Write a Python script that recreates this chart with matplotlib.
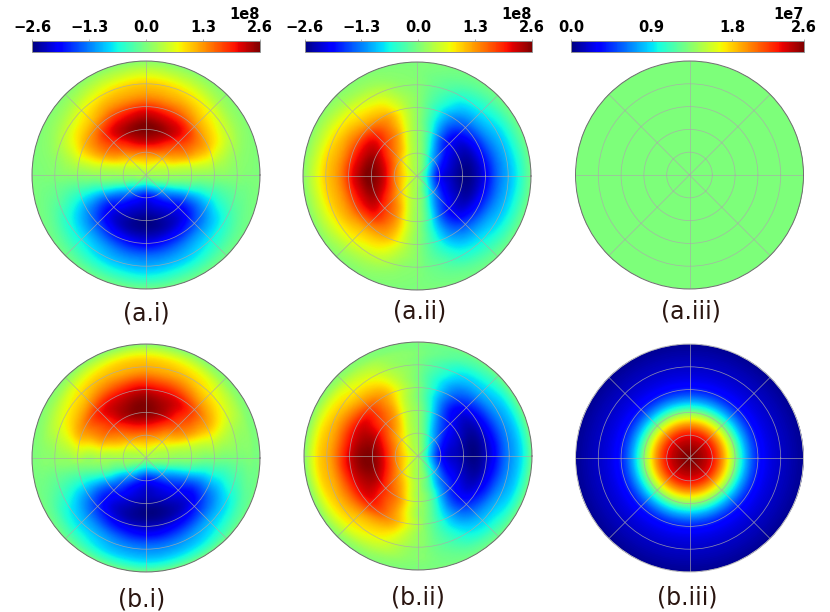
"""
Polar field maps, two rows by three columns, with one colour bar per column.
Values below were read off the picture, in units of 1e8 (1e7 for b.iii).
"""

import matplotlib
matplotlib.use("Agg")
import matplotlib.pyplot as plt
import matplotlib.tri as mtri
import numpy as np

# table of the two-lobe field: rows are radii, columns are angles from the horizontal
radii_a = [0.0, 0.1, 0.2, 0.3, 0.4, 0.5, 0.6, 0.7, 0.8, 0.9, 1.0]
radii_b = [0.0, 0.1, 0.21, 0.33, 0.45, 0.56, 0.66, 0.76, 0.86, 0.94, 1.0]
angles = [0, 10, 20, 30, 45, 60, 75, 90]

upper_lobe = [
    [0.25, 0.25, 0.25, 0.25, 0.25, 0.25, 0.25, 0.25],
    [0.25, 0.27, 0.32, 0.40, 0.50, 0.65, 0.75, 0.80],
    [0.22, 0.33, 0.50, 0.72, 1.00, 1.25, 1.40, 1.45],
    [0.20, 0.40, 0.78, 1.15, 1.50, 1.85, 2.15, 2.25],
    [0.18, 0.48, 0.98, 1.40, 1.80, 2.25, 2.50, 2.60],
    [0.15, 0.52, 1.02, 1.40, 1.90, 2.20, 2.30, 2.40],
    [0.12, 0.45, 0.90, 1.20, 1.45, 1.70, 1.80, 1.90],
    [0.10, 0.30, 0.60, 0.85, 1.00, 1.20, 1.25, 1.30],
    [0.06, 0.15, 0.35, 0.50, 0.70, 0.85, 0.95, 1.00],
    [0.03, 0.07, 0.14, 0.22, 0.32, 0.45, 0.50, 0.55],
    [0.00, 0.01, 0.03, 0.05, 0.08, 0.10, 0.10, 0.10],
]
lower_lobe = [
    [0.25, 0.25, 0.25, 0.25, 0.25, 0.25, 0.25],
    [0.15, 0.05, -0.08, -0.30, -0.55, -0.72, -0.80],
    [0.05, -0.20, -0.60, -1.05, -1.50, -1.80, -1.95],
    [-0.05, -0.50, -1.05, -1.60, -2.00, -2.20, -2.30],
    [-0.15, -0.72, -1.35, -1.95, -2.25, -2.45, -2.55],
    [-0.25, -0.80, -1.35, -1.95, -2.25, -2.40, -2.45],
    [-0.25, -0.70, -1.15, -1.55, -1.80, -1.95, -2.05],
    [-0.20, -0.50, -0.85, -1.10, -1.25, -1.40, -1.45],
    [-0.12, -0.30, -0.55, -0.72, -0.90, -1.00, -1.05],
    [-0.06, -0.14, -0.25, -0.38, -0.50, -0.55, -0.60],
    [0.00, -0.03, -0.06, -0.08, -0.10, -0.10, -0.10],
]

# b.iii only depends on the radius, a.iii is flat
ring_radii = [0.0, 0.05, 0.1, 0.15, 0.2, 0.25, 0.3, 0.35, 0.4, 0.45, 0.5,
              0.55, 0.6, 0.65, 0.7, 0.75, 0.8, 0.85, 0.9, 0.95, 1.0]
ring_values = [2.60, 2.58, 2.52, 2.45, 2.34, 2.15, 1.92, 1.65, 1.36, 1.03, 0.78,
               0.57, 0.41, 0.30, 0.24, 0.20, 0.17, 0.14, 0.11, 0.08, 0.05]
flat_value = 1.3

ticks_e8 = [-2.6, -1.3, 0.0, 1.3, 2.6]
ticks_e7 = [0.0, 0.9, 1.8, 2.6]

WIDTH, HEIGHT = 830, 612
RADIUS = 114
GRID = "#aaaaaa"


def px_rect(left, top, width, height):
    return [left / WIDTH, 1 - (top + height) / HEIGHT, width / WIDTH, height / HEIGHT]


def lobe_table():
    """Whole circle from -180 to 180 degrees, left and right side mirrored."""
    up = np.array(upper_lobe)
    low = np.array(lower_lobe)
    table = np.hstack([up[:, [0]], low, low[:, -2::-1], up, up[:, -2::-1]])
    ang = np.array(angles, dtype=float)
    theta = np.concatenate([
        -180 + ang,
        -ang[-2:0:-1],
        ang,
        180 - ang[-2::-1],
    ])
    return np.radians(theta), table


def smooth_lobes(radii):
    """Let matplotlib's cubic triangle interpolator smooth the table for display."""
    theta, table = lobe_table()
    t, r = np.meshgrid(theta, radii)
    tri = mtri.Triangulation(t.ravel(), r.ravel())
    interp = mtri.CubicTriInterpolator(tri, table.ravel(), kind="min_E")
    t_fine, r_fine = np.meshgrid(np.linspace(-np.pi, np.pi, 361), np.linspace(0, 1, 201))
    z = interp(np.clip(t_fine, -np.pi + 1e-6, np.pi - 1e-6), np.clip(r_fine, 1e-6, 1 - 1e-6))
    return t_fine, r_fine, np.ma.filled(z, 0.0)


def polar_panel(cx, cy, t, r, z, vmin, vmax, spine="#707070"):
    ax = plt.axes(px_rect(cx - RADIUS, cy - RADIUS, 2 * RADIUS, 2 * RADIUS), projection="polar")
    mesh = ax.pcolormesh(t, r, z, shading="gouraud", cmap="jet", vmin=vmin, vmax=vmax)
    ax.set_ylim(0, 1)
    ax.set_xticks(np.radians(np.arange(0, 360, 45)))
    ax.set_yticks([0.2, 0.4, 0.6, 0.8, 1.0])
    ax.set_xticklabels([])
    ax.set_yticklabels([])
    ax.tick_params(length=0)
    ax.grid(True, color=GRID, lw=0.55, alpha=0.8)
    ax.spines["polar"].set_color(spine)
    ax.spines["polar"].set_linewidth(0.7)
    return mesh


def colour_bar(fig, mesh, left, width, ticks, scale, exponent):
    cax = fig.add_axes(px_rect(left, 40.5, width, 11.5))
    cb = fig.colorbar(mesh, cax=cax, orientation="horizontal")
    cb.set_ticks(np.array(ticks) * scale)
    cax.xaxis.set_ticks_position("top")
    cax.tick_params(length=1.5, width=0.5, color="#909090", pad=2.5, direction="out")
    for lab in cax.get_xticklabels():
        lab.set_fontweight("bold")
        lab.set_fontsize(10.5)
    cax.xaxis.get_offset_text().set_visible(False)
    fig.text((left + width) / WIDTH, 1 - 14.5 / HEIGHT, exponent, fontsize=10.5,
             fontweight="bold", ha="right", va="center")
    cb.outline.set_edgecolor("#909090")
    cb.outline.set_linewidth(0.7)


def main():
    fig = plt.figure(figsize=(WIDTH / 100, HEIGHT / 100), dpi=100)

    t_a, r_a, z_a = smooth_lobes(radii_a)
    t_b, r_b, z_b = smooth_lobes(radii_b)
    z_a = z_a * 1e8
    z_b = z_b * 1e8
    lim = 2.6e8

    mesh = polar_panel(146, 175, t_a, r_a, z_a, -lim, lim)
    colour_bar(fig, mesh, 32.3, 227.5, ticks_e8, 1e8, "1e8")

    mesh = polar_panel(417, 176, t_a + np.pi / 2, r_a, z_a, -lim, lim)
    colour_bar(fig, mesh, 304.5, 227.5, ticks_e8, 1e8, "1e8")

    polar_panel(146, 458, t_b + np.radians(4), r_b, z_b, -lim, lim)
    polar_panel(418, 456, t_b + np.radians(94), r_b, z_b, -lim, lim)

    t_flat, r_flat = np.meshgrid(np.linspace(-np.pi, np.pi, 91), np.linspace(0, 1, 21))
    mesh = polar_panel(689.5, 175, t_flat, r_flat, np.full(t_flat.shape, flat_value) * 1e7, 0, 2.6e7)
    colour_bar(fig, mesh, 571, 233, ticks_e7, 1e7, "1e7")

    # gouraud blends rgb, so the ring table goes on a finer mesh to keep jet's colours
    r_fine = np.linspace(0, 1, 201)
    t_ring, r_ring = np.meshgrid(np.linspace(-np.pi, np.pi, 181), r_fine)
    z_ring = np.tile(np.interp(r_fine, ring_radii, ring_values)[:, None], (1, 181)) * 1e7
    polar_panel(689.5, 458, t_ring, r_ring, z_ring, 0, 2.6e7, spine="#c0c0c0")

    labels = [("(a.i)", 146, 313), ("(a.ii)", 420, 311), ("(a.iii)", 691, 311),
              ("(b.i)", 142, 600), ("(b.ii)", 418, 598), ("(b.iii)", 687, 598)]
    for text, x, y in labels:
        fig.text(x / WIDTH, 1 - y / HEIGHT, text, fontsize=17, color="#2a1510",
                 ha="center", va="center")

    fig.savefig("out.png", dpi=100)
    plt.close(fig)


if __name__ == "__main__":
    main()
